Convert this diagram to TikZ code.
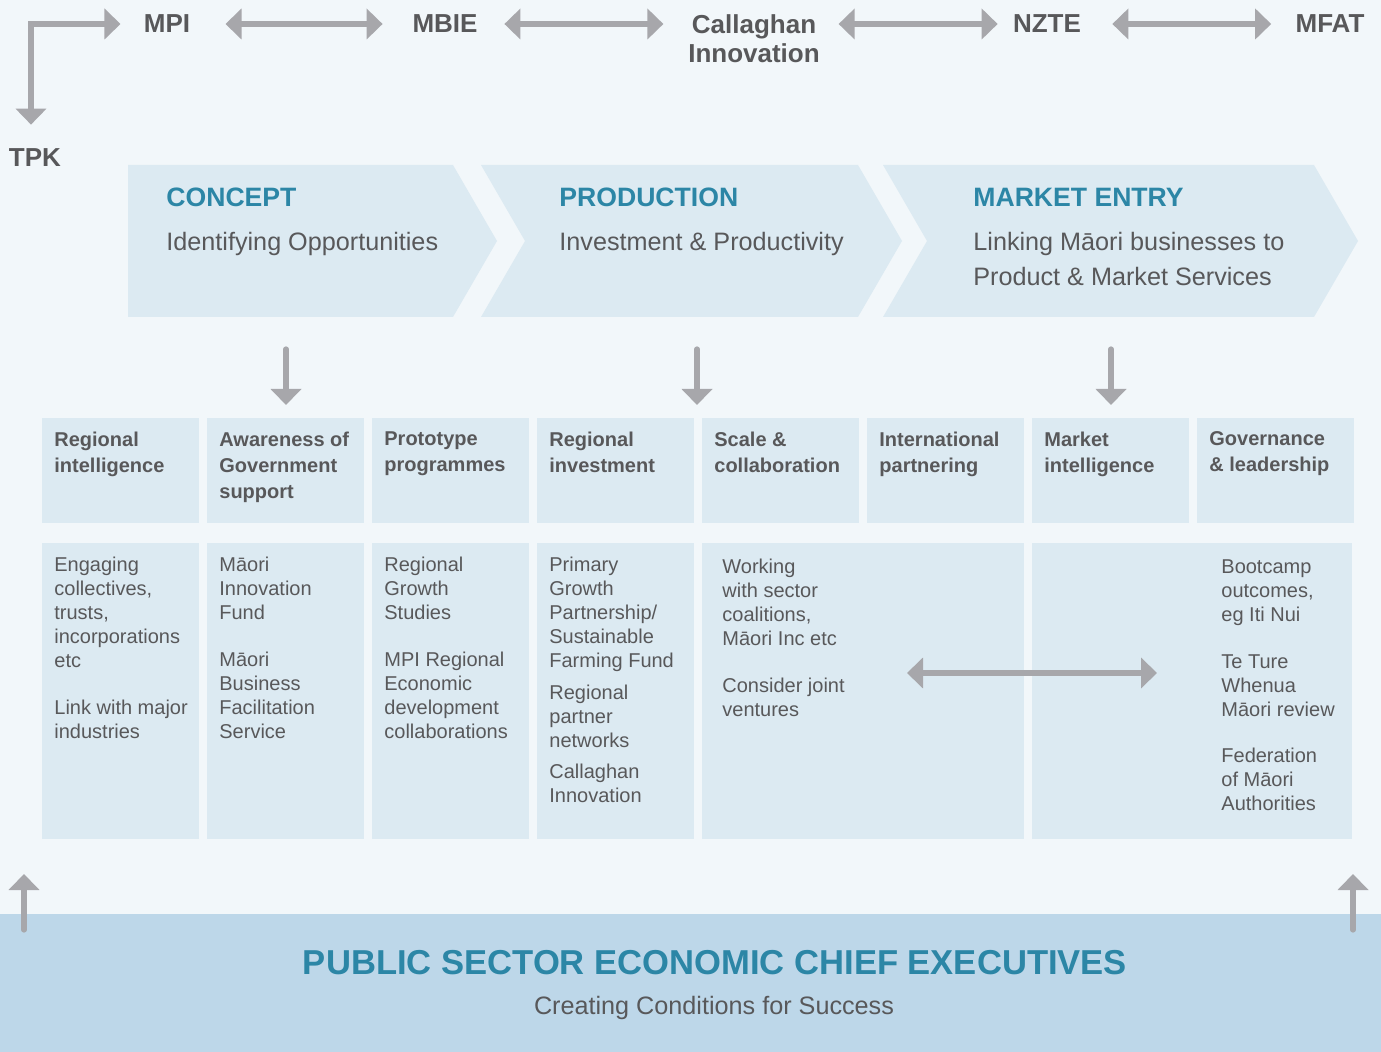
\documentclass[tikz,border=0pt]{standalone}
\usepackage{fontspec}
\setmainfont{Liberation Sans}
\usetikzlibrary{arrows.meta,positioning}

\definecolor{paper}{HTML}{F2F7FA}
\definecolor{panel}{HTML}{DCEAF2}
\definecolor{band}{HTML}{BDD7E9}
\definecolor{ink}{HTML}{58585A}
\definecolor{teal}{HTML}{2C86A6}
\definecolor{arrowgrey}{HTML}{A7A7AB}

\tikzset{
  agency/.style={font=\fontsize{13}{14.5}\selectfont\bfseries, text=ink, inner sep=0pt, align=center},
  twoway/.style={draw=arrowgrey, line width=2.8pt, {Triangle[length=8pt,width=15pt]}-{Triangle[length=8pt,width=15pt]}},
  oneway/.style={draw=arrowgrey, line width=2.6pt, line cap=round, -{Triangle[length=8pt,width=15pt]}},
  chevron/.style={fill=panel},
  stage/.style={font=\fontsize{13.3}{16}\selectfont\bfseries, text=teal, inner sep=0pt, anchor=north west},
  stagetext/.style={font=\fontsize{12.6}{17.5}\selectfont, text=ink, inner sep=0pt, anchor=north west, align=left},
  cell/.style={fill=panel, inner sep=0pt, anchor=north west, minimum width=78.5pt},
  head/.style={font=\fontsize{10}{13}\selectfont\bfseries, text=ink, inner sep=0pt, anchor=north west, align=left},
  body/.style={font=\fontsize{10}{12}\selectfont, text=ink, inner sep=0pt, anchor=north west, align=left},
}

\begin{document}
\begin{tikzpicture}[x=0.5pt,y=-0.5pt]
  \fill[paper] (0,0) rectangle (1381,1052);
  \useasboundingbox (0,0) rectangle (1381,1052);

  % agencies along the top
  \node[agency] (mpi) at (167,24) {MPI};
  \node[agency] (mbie) at (445,24) {MBIE};
  \node[agency] (cal) at (754,38.5) {Callaghan\\Innovation};
  \node[agency] (nzte) at (1047,24) {NZTE};
  \node[agency] (mfat) at (1330,24) {MFAT};
  \node[agency] (tpk) at (35,158) {TPK};

  \coordinate (bend) at (31,24);
  \draw[twoway, shorten <=12pt, shorten >=11.5pt] (tpk.north -| bend) -- (bend) -- (mpi.west);
  \draw[twoway, shorten <=17.5pt, shorten >=14.75pt] (mpi) -- (mbie);
  \draw[twoway, shorten <=13.25pt, shorten >=12.25pt] (mbie) -- (mbie -| cal.west);
  \draw[twoway, shorten <=9.25pt, shorten >=7.5pt] (cal.east |- nzte) -- (nzte);
  \draw[twoway, shorten <=15.5pt, shorten >=12pt] (nzte) -- (mfat);

  % the three stages
  \fill[chevron] (128,165) -- (453,165) -- (497,241) -- (453,317) -- (128,317) -- cycle;
  \fill[chevron] (481,165) -- (858,165) -- (902,241) -- (858,317) -- (481,317) -- (525,241) -- cycle;
  \fill[chevron] (883,165) -- (1314,165) -- (1358,241) -- (1314,317) -- (883,317) -- (927,241) -- cycle;

  \node[stage] (concept) at (166,188) {CONCEPT};
  \node[stagetext] at (166,232) {Identifying Opportunities};
  \node[stage] (production) at (559,188) {PRODUCTION};
  \node[stagetext] at (559,232) {Investment \& Productivity};
  \node[stage] (market) at (973,188) {MARKET ENTRY};
  \node[stagetext] at (973,232) {Linking Māori businesses to\\Product \& Market Services};

  % focus areas
  \foreach \i/\t in {0/{Regional\\intelligence}, 1/{Awareness of\\Government\\support},
      2/{Prototype\\programmes}, 3/{Regional\\investment}, 4/{Scale \&\\collaboration},
      5/{International\\partnering}, 6/{Market\\intelligence}, 7/{Governance\\\& leadership}} {
    \node[cell, minimum height=52.5pt] (h\i) at (42+165*\i,418) {};
    \node[head] at ([xshift=6pt,yshift=-6.8pt]h\i.north west) {\t};
  }

  \coordinate (d1) at (286,349);
  \coordinate (d2) at (697,349);
  \coordinate (d3) at (1111,349);
  \draw[oneway, shorten >=6.5pt] (d1) -- (d1 |- h1.north);
  \draw[oneway, shorten >=6.5pt] (d2) -- (d2 |- h4.north);
  \draw[oneway, shorten >=6.5pt] (d3) -- (d3 |- h6.north);

  % initiatives
  \foreach \i in {0,...,3}
    \node[cell, minimum height=148pt] (b\i) at (42+165*\i,543) {};
  \node[cell, minimum height=148pt, minimum width=161pt] (b4) at (702,543) {};
  \node[cell, minimum height=148pt, minimum width=160pt] (b5) at (1032,543) {};

  \node[body] at (54,557) {Engaging\\collectives,\\trusts,\\incorporations\\etc\\[11.5pt]Link with major\\industries};
  \node[body] at (219,557) {Māori\\Innovation\\Fund\\[11.5pt]Māori\\Business\\Facilitation\\Service};
  \node[body] at (384,557) {Regional\\Growth\\Studies\\[11.5pt]MPI Regional\\Economic\\development\\collaborations};
  \node[body] at (549,557) {Primary\\Growth\\Partnership/\\Sustainable\\Farming Fund\\[4pt]Regional\\partner\\networks\\[3.5pt]Callaghan\\Innovation};
  \node[body] at (722,559) {Working\\with sector\\coalitions,\\Māori Inc etc\\[11.5pt]Consider joint\\ventures};
  \node[body] at (1221,559) {Bootcamp\\outcomes,\\eg Iti Nui\\[11.5pt]Te Ture\\Whenua\\Māori review\\[11pt]Federation\\of Māori\\Authorities};

  \coordinate (jl) at (907,673);
  \coordinate (jr) at (1157,673);
  \draw[twoway] (jl) -- (jr);

  % chief executives
  \fill[band] (0,914) rectangle (1381,1052);
  \node[font=\fontsize{17.3}{20}\selectfont\bfseries, text=teal, inner sep=0pt] (pscx) at (715,963) {PUBLIC SECTOR ECONOMIC CHIEF EXECUTIVES};
  \node[font=\fontsize{12.6}{15}\selectfont, text=ink, inner sep=0pt] (success) at (714,1008) {Creating Conditions for Success};

  \coordinate (u1) at (24,930);
  \coordinate (u2) at (1353,930);
  \draw[oneway] (u1) -- +(0,-56);
  \draw[oneway] (u2) -- +(0,-56);
\end{tikzpicture}
\end{document}
